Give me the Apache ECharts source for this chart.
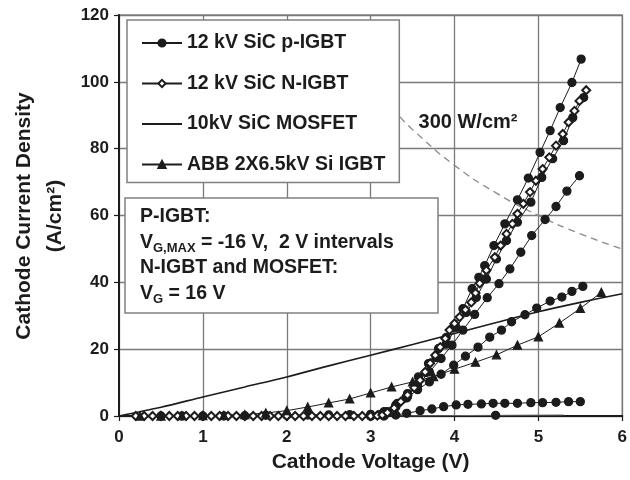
<!DOCTYPE html>
<html>
<head>
<meta charset="utf-8">
<script src="https://cdn.jsdelivr.net/npm/echarts@6/dist/echarts.min.js"></script>
<style>
html,body{margin:0;padding:0;background:#fff;}
#chart{width:630px;height:480px;}
</style>
</head>
<body>
<div id="chart"></div>
<script>
// ---- axis ranges / ticks ----
const xRange = [0, 6, 1];
const yRange = [0, 120, 20];

// ---- series names ----
const names = ['12 kV SiC p-IGBT', '12 kV SiC N-IGBT', '10kV SiC MOSFET', 'ABB 2X6.5kV Si IGBT'];

// ---- 12 kV SiC p-IGBT, one curve per gate voltage ----
const pIgbt1 = [[0.5,0],[0.75,0],[1.0,0],[1.25,0],[1.5,0.1],[1.75,0.2],[2.0,0.2],[2.25,0.3],[2.5,0.3],[2.75,0.4],[3.0,0.5],[3.2,1.3],[3.32,3.8],[3.44,6.7],[3.57,11.7],[3.69,15.7],[3.81,20.2],[3.9,23.5],[3.99,26.7],[4.1,32.1],[4.21,38.1],[4.29,41.5],[4.36,45],[4.47,51],[4.6,57.5],[4.75,64.7],[4.88,71.2],[5.02,78.9],[5.14,85.4],[5.26,92.3],[5.4,99.8],[5.51,106.8]];
const pIgbt2 = [[3.0,0],[3.1,0.4],[3.2,1.0],[3.3,2.8],[3.42,5.5],[3.54,9],[3.66,13],[3.78,17.5],[3.9,21.5],[4.02,26.5],[4.14,31],[4.26,35.5],[4.38,41],[4.5,47],[4.62,52.5],[4.75,58],[4.91,64],[5.04,71.4],[5.17,77],[5.3,82.4],[5.41,89.3],[5.54,95.3]];
const pIgbt3 = [[3.0,0],[3.16,0.8],[3.3,2.8],[3.44,5.8],[3.56,9.2],[3.7,13.2],[3.84,17.2],[3.97,21.2],[4.1,25.7],[4.24,30.4],[4.39,35.4],[4.53,39.6],[4.66,44],[4.79,49],[4.92,54],[5.08,58.8],[5.21,62.7],[5.34,67.3],[5.49,71.9]];
const pIgbt4 = [[3.0,0],[3.16,1.3],[3.3,3.3],[3.43,5.4],[3.56,7.9],[3.7,10.2],[3.84,12.5],[3.99,15.2],[4.13,17.9],[4.28,20.6],[4.42,23.6],[4.56,25.7],[4.68,28.2],[4.84,30.3],[4.98,32.3],[5.14,34.4],[5.28,35.6],[5.4,37.3],[5.53,38.8]];
const pIgbt5 = [[3.16,0],[3.3,0.3],[3.43,0.8],[3.59,1.6],[3.73,2.1],[3.87,2.8],[4.02,3.3],[4.16,3.5],[4.32,3.6],[4.46,3.8],[4.6,3.8],[4.75,3.8],[4.91,4.0],[5.05,4.0],[5.21,4.1],[5.36,4.3],[5.5,4.3]];
const pIgbt6 = [[3.2,0],[4.49,0.2],[5.3,0.3]];
const pIgbt6Marked = [1]; // only this point carries a visible marker

// ---- 12 kV SiC N-IGBT ----
const nIgbt = [[0.2,0],[0.3,0],[0.4,0],[0.5,0],[0.6,0],[0.7,0],[0.8,0],[0.9,0],[1.0,0],[1.1,0],[1.2,0],[1.3,0],[1.4,0],[1.5,0],[1.6,0],[1.7,0],[1.8,0],[1.9,0],[2.0,0],[2.1,0],[2.2,0],[2.3,0],[2.4,0],[2.5,0],[2.6,0],[2.7,0],[2.8,0],[2.9,0],[3.0,0],[3.08,0.1],[3.14,0.3],[3.2,1.0],[3.28,2.4],[3.36,4.3],[3.44,6.3],[3.52,8.5],[3.59,10.7],[3.65,13.2],[3.71,15.8],[3.77,18.2],[3.83,20.6],[3.89,23.2],[3.94,25.7],[4.0,27.7],[4.06,29.6],[4.13,31.8],[4.2,34],[4.25,36.8],[4.3,39.7],[4.38,43.6],[4.48,47.5],[4.55,51],[4.62,54.5],[4.69,57.5],[4.75,60.5],[4.82,63.5],[4.9,67],[4.97,70.4],[5.05,73.9],[5.13,77.4],[5.21,80.9],[5.29,84.4],[5.36,87.9],[5.43,91.3],[5.49,94.3],[5.57,97.5]];

// ---- 10kV SiC MOSFET ----
const mosfet = [[0,0],[0.5,2.6],[1,5.7],[1.5,8.7],[2,11.7],[2.5,15],[3,18.2],[3.5,21.4],[4,24.7],[4.5,28],[5,31.2],[5.5,34],[6,36.6]];

// ---- ABB 2X6.5kV Si IGBT ----
const abb = [[0.25,0],[0.5,0],[0.75,0.1],[1.0,0.1],[1.25,0.2],[1.5,0.4],[1.75,0.9],[2.0,1.6],[2.25,2.7],[2.5,3.9],[2.75,5.1],[3.0,6.9],[3.25,8.7],[3.5,10.2],[3.75,11.8],[4.0,14],[4.25,16.1],[4.5,18.3],[4.75,21.2],[5.0,23.7],[5.25,27.8],[5.5,32.2],[5.75,37]];

// ---- 300 W/cm2 constant-power line ----
const power300 = [[3.35,89.5],[3.5,85.7],[4,75],[4.5,66.7],[5,60],[5.5,54.5],[6,50]];
const powerLabel = '300 W/cm²';

// ---- annotation text ----
const noteLines = [
  '{b|P-IGBT:}',
  '{b|V}{s|G,MAX}{b| = -16 V,  2 V intervals}',
  '{b|N-IGBT and MOSFET:}',
  '{b|V}{s|G}{b| = 16 V}'
];
const xTitle = 'Cathode Voltage (V)';
const yTitle = ['Cathode Current Density', '(A/cm²)'];

const INK = '#1c1c1c';
const FONT = 'Liberation Sans, Arial, sans-serif';

function lineSeries(name, data, symbol, extra) {
  return Object.assign({
    type: 'line', name: name, data: data,
    symbol: symbol, symbolSize: 8,
    showSymbol: symbol !== 'none',
    lineStyle: {color: INK, width: 1},
    itemStyle: {color: INK, borderColor: INK, borderWidth: 1.3},
    emphasis: {disabled: true},
    animation: false, silent: true, z: 3
  }, extra || {});
}

const p6data = pIgbt6.map((d, i) => pIgbt6Marked.includes(i) ? d : {value: d, symbolSize: 0});

const series = [
  lineSeries(names[0], pIgbt1, 'circle'),
  lineSeries(names[0], pIgbt2, 'circle'),
  lineSeries(names[0], pIgbt3, 'circle'),
  lineSeries(names[0], pIgbt4, 'circle'),
  lineSeries(names[0], pIgbt5, 'circle'),
  lineSeries(names[0], p6data, 'circle', {lineStyle: {color: '#666', width: 1}}),
  lineSeries(names[1], nIgbt, 'emptyDiamond', {symbolSize: 8}),
  lineSeries(names[2], mosfet, 'none', {lineStyle: {color: INK, width: 1.6}, smooth: 0.3}),
  lineSeries(names[3], abb, 'triangle', {symbolSize: 8}),
  {
    type: 'line', name: 'power', data: power300, symbol: 'none', smooth: true,
    lineStyle: {color: '#8a8a8a', width: 1.3, type: [7, 5]},
    animation: false, silent: true, z: 2
  }
];

const axisCommon = {
  type: 'value',
  axisLine: {show: true, onZero: false, lineStyle: {color: INK, width: 2}},
  axisTick: {show: true, length: 5, lineStyle: {color: INK, width: 1.2}},
  splitLine: {show: true, lineStyle: {color: '#7a7a7a', width: 1.3}},
  axisLabel: {color: INK, fontSize: 17, fontWeight: 'bold', fontFamily: FONT}
};

const legendData = names.map(n => n === names[2] ? {name: n, itemStyle: {opacity: 0}} : {name: n});

const option = {
  backgroundColor: '#fff',
  animation: false,
  grid: {left: 119, right: 3, top: 15, bottom: 64, show: true, borderColor: '#8a8a8a', borderWidth: 1.5},
  xAxis: Object.assign({}, axisCommon, {
    min: xRange[0], max: xRange[1], interval: xRange[2],
    axisLabel: Object.assign({}, axisCommon.axisLabel, {margin: 13}),
    name: xTitle, nameLocation: 'middle', nameGap: 36,
    nameTextStyle: {color: INK, fontSize: 21, fontWeight: 'bold', fontFamily: FONT}
  }),
  yAxis: Object.assign({}, axisCommon, {
    min: yRange[0], max: yRange[1], interval: yRange[2],
    axisLabel: Object.assign({}, axisCommon.axisLabel, {margin: 10})
  }),
  legend: {
    data: legendData,
    orient: 'vertical', left: 127, top: 20,
    padding: [13, 14, 8, 14],
    itemWidth: 40, itemHeight: 9, itemGap: 20.5,
    backgroundColor: '#fff', borderColor: '#808080', borderWidth: 1.5,
    selectedMode: false,
    textStyle: {color: INK, fontSize: 19.5, fontWeight: 'bold', fontFamily: FONT, lineHeight: 20},
    z: 20
  },
  series: series,
  graphic: [
    {type: 'rect', z: 100, shape: {x: 125, y: 198, width: 313, height: 115},
     style: {fill: '#fff', stroke: '#808080', lineWidth: 1.5}},
    {type: 'text', z: 101, x: 140, y: 204,
     style: {text: noteLines.join('\n'), fill: INK, font: 'bold 19.5px ' + FONT,
       rich: {
         b: {fontSize: 19.5, fontWeight: 'bold', fontFamily: FONT, fill: INK, lineHeight: 25.5},
         s: {fontSize: 13, fontWeight: 'bold', fontFamily: FONT, fill: INK, lineHeight: 12, verticalAlign: 'bottom'}
       }}},
    {type: 'text', z: 101, x: 468, y: 122,
     style: {text: powerLabel, fill: INK, font: 'bold 20px ' + FONT, align: 'center', verticalAlign: 'middle'}},
    {type: 'text', z: 101, x: 24, y: 216, rotation: Math.PI / 2,
     style: {text: yTitle[0], fill: INK, font: 'bold 21px ' + FONT, align: 'center', verticalAlign: 'middle'}},
    {type: 'text', z: 101, x: 55, y: 216, rotation: Math.PI / 2,
     style: {text: yTitle[1], fill: INK, font: 'bold 21px ' + FONT, align: 'center', verticalAlign: 'middle'}}
  ]
};

const chart = echarts.init(document.getElementById('chart'), null, {renderer: 'canvas'});
chart.setOption(option);
</script>
</body>
</html>
